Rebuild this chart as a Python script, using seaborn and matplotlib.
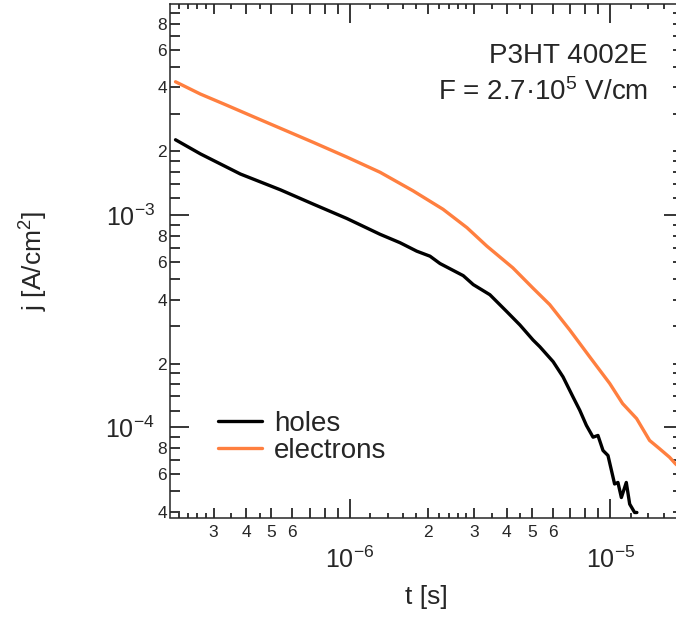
import numpy as np
import pandas as pd
import matplotlib
matplotlib.use("Agg")
import matplotlib.pyplot as plt
from matplotlib.ticker import LogLocator, FuncFormatter
import seaborn as sns

# Transient photocurrent, P3HT 4002E at F = 2.7e5 V/cm
t_holes = [2.142e-7, 2.669e-7, 3.80e-7, 5.41e-7, 7.25e-7, 9.74e-7, 1.306e-6,
           1.558e-6, 1.806e-6, 2.031e-6, 2.218e-6, 2.724e-6, 2.976e-6, 3.447e-6,
           3.996e-6, 4.494e-6, 5.05e-6, 5.36e-6, 6.03e-6, 6.58e-6, 7.19e-6,
           7.63e-6, 8.09e-6, 8.58e-6, 8.96e-6, 9.37e-6, 9.79e-6, 1.038e-5,
           1.069e-5, 1.102e-5, 1.151e-5, 1.186e-5, 1.239e-5, 1.264e-5]
j_holes = [2.268e-3, 1.946e-3, 1.564e-3, 1.318e-3, 1.127e-3, 9.65e-4, 8.13e-4,
           7.42e-4, 6.77e-4, 6.41e-4, 5.92e-4, 5.19e-4, 4.71e-4, 4.22e-4,
           3.52e-4, 3.04e-4, 2.58e-4, 2.40e-4, 2.04e-4, 1.73e-4, 1.39e-4,
           1.204e-4, 1.022e-4, 8.99e-5, 9.16e-5, 7.78e-5, 7.37e-5, 5.41e-5,
           5.50e-5, 4.67e-5, 5.50e-5, 4.35e-5, 3.97e-5, 3.97e-5]

t_electrons = [2.142e-7, 2.669e-7, 3.328e-7, 4.260e-7, 5.41e-7, 7.234e-7, 9.765e-7,
               1.306e-6, 1.747e-6, 2.278e-6, 2.814e-6, 3.357e-6, 4.223e-6, 5.038e-6,
               5.85e-6, 6.98e-6, 8.33e-6, 9.94e-6, 1.114e-5, 1.261e-5, 1.414e-5,
               1.545e-5, 1.687e-5, 1.779e-5, 1.892e-5]
j_electrons = [4.256e-3, 3.725e-3, 3.321e-3, 2.914e-3, 2.570e-3, 2.206e-3, 1.877e-3,
               1.594e-3, 1.304e-3, 1.067e-3, 8.74e-4, 7.15e-4, 5.65e-4, 4.54e-4,
               3.79e-4, 2.88e-4, 2.15e-4, 1.611e-4, 1.295e-4, 1.100e-4, 8.68e-5,
               7.93e-5, 7.23e-5, 6.73e-5, 6.32e-5]

carriers = ["holes", "electrons"]
carrier_colors = ["#000000", "#FF7F3F"]

x_minor_mult = [1.2, 1.4, 1.6, 1.8, 2, 2.2, 2.4, 2.6, 2.8, 3, 3.5, 4, 4.5, 5, 6, 7, 8, 9]
x_minor_labeled = [2, 3, 4, 5, 6]
y_minor_mult = [1.2, 1.4, 1.6, 1.8, 2, 3, 4, 5, 6, 7, 8, 9]
y_minor_labeled = [2, 4, 6, 8]

sns.set_style("ticks")
plt.rcParams["font.family"] = ["Liberation Sans", "DejaVu Sans"]
plt.rcParams["mathtext.fontset"] = "custom"
plt.rcParams["mathtext.rm"] = "Liberation Sans"
plt.rcParams["mathtext.it"] = "Liberation Sans:italic"
plt.rcParams["mathtext.bf"] = "Liberation Sans:bold"
plt.rcParams["axes.linewidth"] = 1.1

df = pd.concat([
    pd.DataFrame({"t": t_holes, "j": j_holes, "carrier": carriers[0]}),
    pd.DataFrame({"t": t_electrons, "j": j_electrons, "carrier": carriers[1]}),
], ignore_index=True)

fig = plt.figure(figsize=(6.76, 6.19), dpi=100)
W, H = 676, 619
left, right, top, bottom = 170, 683, 4, 517.5
ax = fig.add_axes([left / W, (H - bottom) / H, (right - left) / W, (bottom - top) / H])

sns.lineplot(data=df, x="t", y="j", hue="carrier", hue_order=carriers,
             palette=carrier_colors, estimator=None, sort=True,
             linewidth=2.4, ax=ax)

ax.set_xscale("log")
ax.set_yscale("log")
ax.set_xlim(2.04e-7, 1.9e-5)
ax.set_ylim(3.76e-5, 9.9e-3)

ax.xaxis.set_major_locator(LogLocator(base=10, numticks=20))
ax.yaxis.set_major_locator(LogLocator(base=10, numticks=20))
ax.xaxis.set_minor_locator(LogLocator(base=10, subs=x_minor_mult, numticks=100))
ax.yaxis.set_minor_locator(LogLocator(base=10, subs=y_minor_mult, numticks=100))


def mantissa(v):
    return v / 10 ** np.floor(np.log10(v) + 1e-9)


def minor_fmt(allowed):
    def f(v, pos):
        m = mantissa(v)
        for a in allowed:
            if abs(m - a) < 1e-6:
                return f"{a:g}"
        return ""
    return FuncFormatter(f)


ax.xaxis.set_minor_formatter(minor_fmt(x_minor_labeled))
ax.yaxis.set_minor_formatter(minor_fmt(y_minor_labeled))

ax.tick_params(which="both", direction="in", top=True, right=True, width=1.1, color="black")
ax.tick_params(which="major", length=14, labelsize=18)
ax.tick_params(which="minor", length=7.2, labelsize=12.5)
ax.tick_params(axis="x", which="major", pad=21)
ax.tick_params(axis="x", which="minor", pad=5.5)
ax.tick_params(axis="y", which="major", pad=11)
ax.tick_params(axis="y", which="minor", pad=2)

ax.set_xlabel("t [s]", fontsize=19)
ax.set_ylabel("j [A/cm$^2$]", fontsize=19)
ax.xaxis.set_label_coords(0.5, (bottom - 585) / (bottom - top))
ax.xaxis.label.set_va("top")
ax.yaxis.set_label_coords((50 - left) / (right - left), 0.5)

handles, labels = ax.get_legend_handles_labels()
ax.legend(handles=handles, labels=labels, loc="center left",
          bbox_to_anchor=((218 - left) / (right - left), (bottom - 437.5) / (bottom - top)),
          frameon=False, fontsize=20, handlelength=1.57, handletextpad=0.45,
          labelspacing=0.05, borderpad=0, borderaxespad=0)

ax.text((648 - left) / (right - left), (bottom - 63.3) / (bottom - top), "P3HT 4002E",
        transform=ax.transAxes, ha="right", va="baseline", fontsize=20)
ax.text((648 - left) / (right - left), (bottom - 100) / (bottom - top),
        "F = 2.7·10$^5$ V/cm",
        transform=ax.transAxes, ha="right", va="baseline", fontsize=20)

for s in ax.spines.values():
    s.set_visible(True)
    s.set_linewidth(1.1)

# fractional sub-divisions on the time axis get shorter ticks
x_locs = ax.xaxis.get_minorticklocs()
for tick, loc in zip(ax.xaxis.get_minor_ticks(len(x_locs)), x_locs):
    if abs(mantissa(loc) - round(mantissa(loc))) > 1e-6:
        tick.tick1line.set_markersize(3.8)
        tick.tick2line.set_markersize(3.8)

fig.savefig("out.png", dpi=100)
